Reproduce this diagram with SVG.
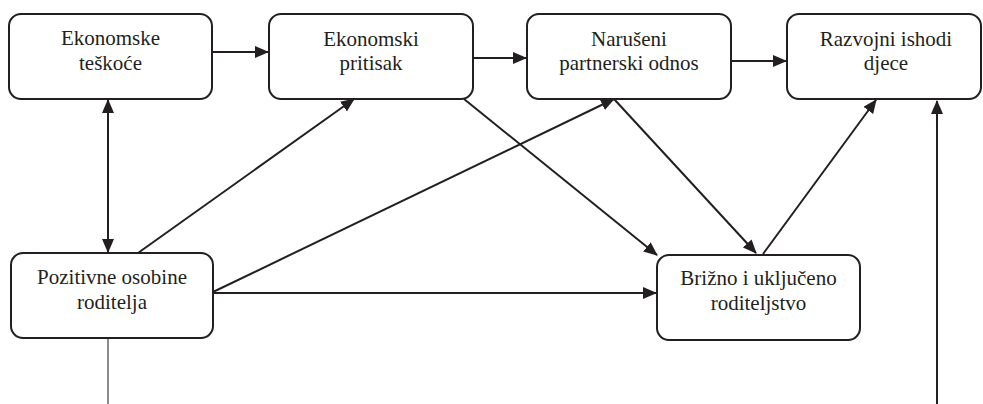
<svg xmlns="http://www.w3.org/2000/svg" width="983" height="404" viewBox="0 0 983 404">
<style>
.box{fill:#fff;stroke:#231f20;stroke-width:2}
.t{font-family:'Liberation Serif','Times New Roman',serif;font-size:21px;fill:#231f20;text-anchor:middle}
.c{stroke:#231f20;stroke-width:2;fill:none}
.g{stroke:#8c8c8c;stroke-width:2;fill:none}
</style>
<defs>
<marker id="ah" markerUnits="userSpaceOnUse" markerWidth="14" markerHeight="12" viewBox="0 0 14 12" refX="13" refY="6" orient="auto">
<path d="M0,0 L14,6 L0,12 Z" fill="#231f20"/>
</marker>
<marker id="as" markerUnits="userSpaceOnUse" markerWidth="14" markerHeight="12" viewBox="0 0 14 12" refX="1" refY="6" orient="auto">
<path d="M14,0 L0,6 L14,12 Z" fill="#231f20"/>
</marker>
</defs>
<rect width="983" height="404" fill="#fff"/>
<g id="connectors">
<line class="c" x1="212" y1="52" x2="268" y2="52" marker-end="url(#ah)"/>
<line class="c" x1="473" y1="58" x2="526" y2="58" marker-end="url(#ah)"/>
<line class="c" x1="731" y1="61" x2="786" y2="61" marker-end="url(#ah)"/>
<line class="c" x1="108" y1="100" x2="108" y2="252" marker-start="url(#as)" marker-end="url(#ah)"/>
<line class="c" x1="138" y1="253" x2="354" y2="99" marker-end="url(#ah)"/>
<line class="c" x1="213" y1="292" x2="614" y2="99" marker-end="url(#ah)"/>
<line class="c" x1="213" y1="293" x2="656" y2="293" marker-end="url(#ah)"/>
<line class="c" x1="464" y1="99" x2="657" y2="255" marker-end="url(#ah)"/>
<line class="c" x1="614" y1="99" x2="756" y2="253" marker-end="url(#ah)"/>
<line class="c" x1="763" y1="254" x2="876" y2="100" marker-end="url(#ah)"/>
<line class="c" x1="937" y1="404" x2="937" y2="101" marker-end="url(#ah)"/>
<line class="g" x1="108" y1="339" x2="108" y2="404"/>
</g>
<g id="n1">
<rect class="box" x="9" y="14" width="203" height="85" rx="12"/>
<text class="t" x="110.5" y="45">Ekonomske</text>
<text class="t" x="110.5" y="70">teškoće</text>
</g>
<g id="n2">
<rect class="box" x="269" y="14" width="204" height="85" rx="12"/>
<text class="t" x="371" y="46">Ekonomski</text>
<text class="t" x="371" y="70">pritisak</text>
</g>
<g id="n3">
<rect class="box" x="527" y="14" width="204" height="85" rx="12"/>
<text class="t" x="629" y="46">Narušeni</text>
<text class="t" x="629" y="70">partnerski odnos</text>
</g>
<g id="n4">
<rect class="box" x="787" y="14" width="194" height="85" rx="12"/>
<text class="t" x="886" y="46">Razvojni ishodi</text>
<text class="t" x="886" y="70">djece</text>
</g>
<g id="n5">
<rect class="box" x="11" y="253" width="202" height="85" rx="12"/>
<text class="t" x="112" y="284">Pozitivne osobine</text>
<text class="t" x="112" y="309">roditelja</text>
</g>
<g id="n6">
<rect class="box" x="657" y="255" width="203" height="85" rx="12"/>
<text class="t" x="758.5" y="285">Brižno i uključeno</text>
<text class="t" x="758.5" y="310">roditeljstvo</text>
</g>
</svg>
